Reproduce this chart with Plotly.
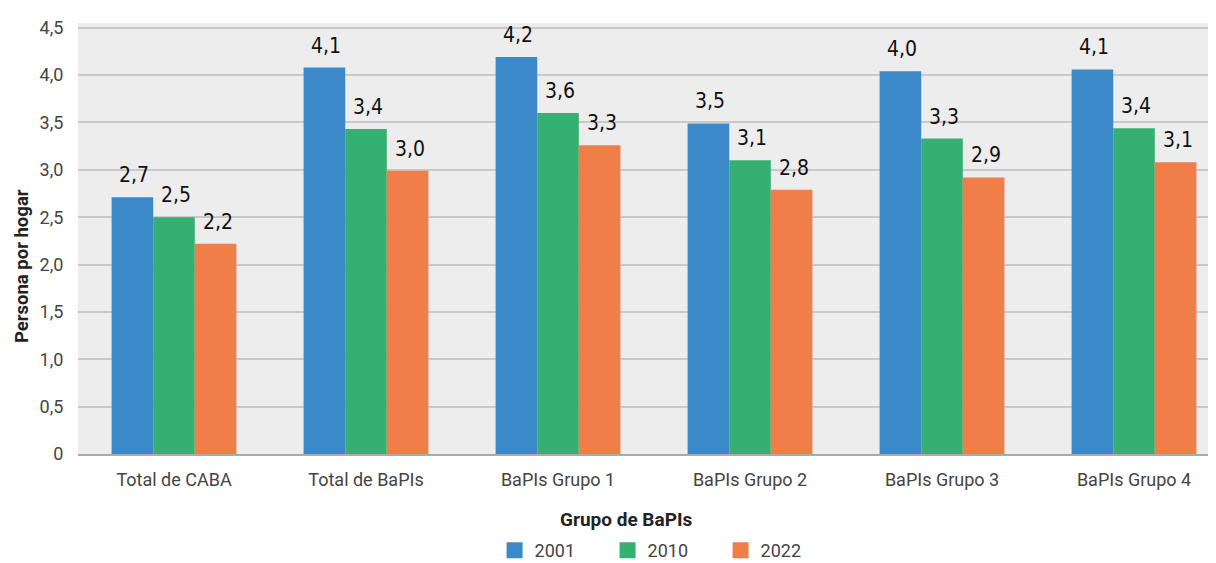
import plotly.graph_objects as go

categories = ["Total de CABA", "Total de BaPIs", "BaPIs Grupo 1", "BaPIs Grupo 2", "BaPIs Grupo 3", "BaPIs Grupo 4"]
years = ["2001", "2010", "2022"]
v2001 = [2.71, 4.08, 4.19, 3.49, 4.04, 4.06]
v2010 = [2.50, 3.43, 3.60, 3.10, 3.33, 3.44]
v2022 = [2.22, 2.99, 3.26, 2.79, 2.92, 3.08]
series = [v2001, v2010, v2022]
colors = ["#3b89c9", "#36b072", "#f07e48"]
y_ticks = [0, 0.5, 1, 1.5, 2, 2.5, 3, 3.5, 4, 4.5]
y_tick_labels = ["0", "0,5", "1,0", "1,5", "2,0", "2,5", "3,0", "3,5", "4,0", "4,5"]
x_title = "Grupo de BaPIs"
y_title = "Persona por hogar"


def fmt(v):
    return f"{v:.1f}".replace(".", ",")


LABEL_FONT = "DejaVu Sans Condensed, Liberation Sans Narrow, Roboto, sans-serif"

fig = go.Figure()
bargap = 0.35
bw = (1 - bargap) / len(series)
idx = list(range(len(categories)))

for k, (name, vals, col) in enumerate(zip(years, series, colors)):
    fig.add_trace(go.Bar(
        x=idx, y=vals, name=name, marker_color=col,
        marker_line_width=0, showlegend=False,
    ))
    off = (k - (len(series) - 1) / 2) * bw
    for i, v in zip(idx, vals):
        fig.add_annotation(
            x=i + off, y=v, text=fmt(v), showarrow=False,
            yanchor="bottom", yshift=8, xshift=2,
            font=dict(family=LABEL_FONT, size=21, color="#111111"),
        )
    # legend proxy
    fig.add_trace(go.Scatter(
        x=[None], y=[None], mode="markers", name=name,
        marker=dict(symbol="square", size=20, color=col),
    ))

# axis titles (placed as in the reference)
fig.add_annotation(
    xref="paper", yref="paper", x=0.4815, y=-0.153, xanchor="center", yanchor="middle",
    text=f"<b>{x_title}</b>", showarrow=False,
    font=dict(family="Roboto", size=19, color="#222222"),
)
fig.add_annotation(
    xref="paper", yref="paper", x=-0.0492, y=0.436, xanchor="center", yanchor="middle",
    text=f"<b>{y_title}</b>", textangle=-90, showarrow=False,
    font=dict(family="Roboto", size=18.5, color="#222222"),
)

# page body has an 8px margin: compensate so the plot lands where the reference has it
fig.update_layout(
    width=1208, height=555,
    margin=dict(l=70, r=0, t=15, b=109, autoexpand=False),
    paper_bgcolor="white", plot_bgcolor="#ededed",
    barmode="group", bargap=bargap, bargroupgap=0,
    font=dict(family="Roboto", size=16, color="#444444"),
    xaxis=dict(
        tickmode="array", tickvals=idx, ticktext=categories,
        range=[-0.5, 5.427], showgrid=False, zeroline=False,
        ticks="outside", ticklen=8, tickcolor="rgba(0,0,0,0)",
        tickfont=dict(family="Roboto", size=18, color="#444444"),
        showline=True, linecolor="#aaaaaa", linewidth=2,
        automargin=False, fixedrange=True,
    ),
    yaxis=dict(
        range=[0, 4.55], tickmode="array", tickvals=y_ticks, ticktext=y_tick_labels,
        showgrid=True, gridcolor="#c9c9c9", gridwidth=1.5, zeroline=False,
        ticks="outside", ticklen=10, tickcolor="rgba(0,0,0,0)",
        tickfont=dict(family="Roboto", size=18, color="#444444"),
        automargin=False, fixedrange=True,
    ),
    legend=dict(
        orientation="h", x=0.515, xanchor="center", y=-0.224, yanchor="middle",
        font=dict(family="Roboto", size=18, color="#444444"),
        itemwidth=30, entrywidth=68, traceorder="normal",
    ),
    showlegend=True,
)

fig.write_html("out.html")
